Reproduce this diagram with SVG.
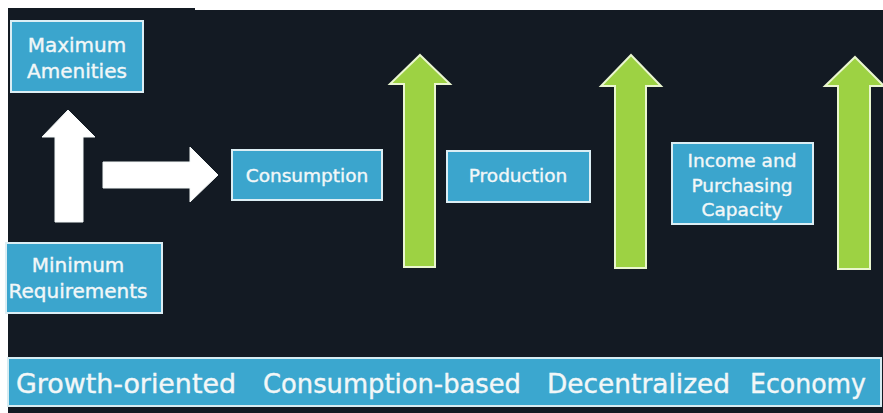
<svg xmlns="http://www.w3.org/2000/svg" width="883" height="413" viewBox="0 0 883 413">
<style>
.box{fill:#3ba5cd;stroke:#dceef4;stroke-width:2}
.lbl{fill:#f2f7f8;stroke:#f2f7f8;stroke-width:0.4;font-family:"DejaVu Sans","Liberation Sans",sans-serif;font-size:18.5px;text-anchor:middle}
.lbl.big{font-size:20px}
.band{fill:#f2f7f8;stroke:#f2f7f8;stroke-width:0.4;font-family:"DejaVu Sans","Liberation Sans",sans-serif;font-size:27px}
.garrow{fill:#9dd243;stroke:#eaf6cf;stroke-width:2;stroke-linejoin:miter}
.warrow{fill:#ffffff;stroke:#f4f8f8;stroke-width:1}
</style>
<rect x="0" y="0" width="883" height="413" fill="#ffffff"/>
<path d="M8,8 H195 V10 H883 V413 H8 Z" fill="#131a23"/>
<g id="band">
<rect x="8" y="358" width="873" height="48" fill="#3ba7cf" stroke="#d6ecf2" stroke-width="2"/>
<text class="band" x="16" y="393" textLength="220" lengthAdjust="spacingAndGlyphs">Growth-oriented</text>
<text class="band" x="263" y="393" textLength="258" lengthAdjust="spacingAndGlyphs">Consumption-based</text>
<text class="band" x="547" y="393" textLength="183" lengthAdjust="spacingAndGlyphs">Decentralized</text>
<text class="band" x="750" y="393" textLength="116" lengthAdjust="spacingAndGlyphs">Economy</text>
</g>
<g id="connectors">
<path class="warrow" d="M68,110 L95,137 L83,137 L83,222 L55,222 L55,137 L42,137 Z"/>
<path class="warrow" d="M103,162 L190,162 L190,147 L218,175 L190,202 L190,188 L103,188 Z"/>
<path class="garrow" d="M420,55 L450,84 L435,84 L435,267 L404,267 L404,84 L390,84 Z"/>
<path class="garrow" d="M631,55 L661,86 L646,86 L646,268 L615,268 L615,86 L601,86 Z"/>
<path class="garrow" d="M855,57 L884,86 L870,86 L870,269 L838,269 L838,86 L825,86 Z"/>
</g>
<g id="max-amenities">
<rect class="box" x="11" y="21" width="132" height="71"/>
<text class="lbl big" x="77" y="52">Maximum</text>
<text class="lbl big" x="77" y="78">Amenities</text>
</g>
<g id="min-requirements">
<rect class="box" x="6" y="243" width="156" height="70"/>
<text class="lbl big" x="78" y="272">Minimum</text>
<text class="lbl big" x="78" y="298">Requirements</text>
</g>
<g id="consumption">
<rect class="box" x="232" y="150" width="150" height="50"/>
<text class="lbl" x="307" y="182">Consumption</text>
</g>
<g id="production">
<rect class="box" x="447" y="151" width="143" height="51"/>
<text class="lbl" x="518" y="182">Production</text>
</g>
<g id="income">
<rect class="box" x="672" y="143" width="141" height="81"/>
<text class="lbl" x="742" y="167">Income and</text>
<text class="lbl" x="742" y="192">Purchasing</text>
<text class="lbl" x="742" y="216">Capacity</text>
</g>
</svg>
